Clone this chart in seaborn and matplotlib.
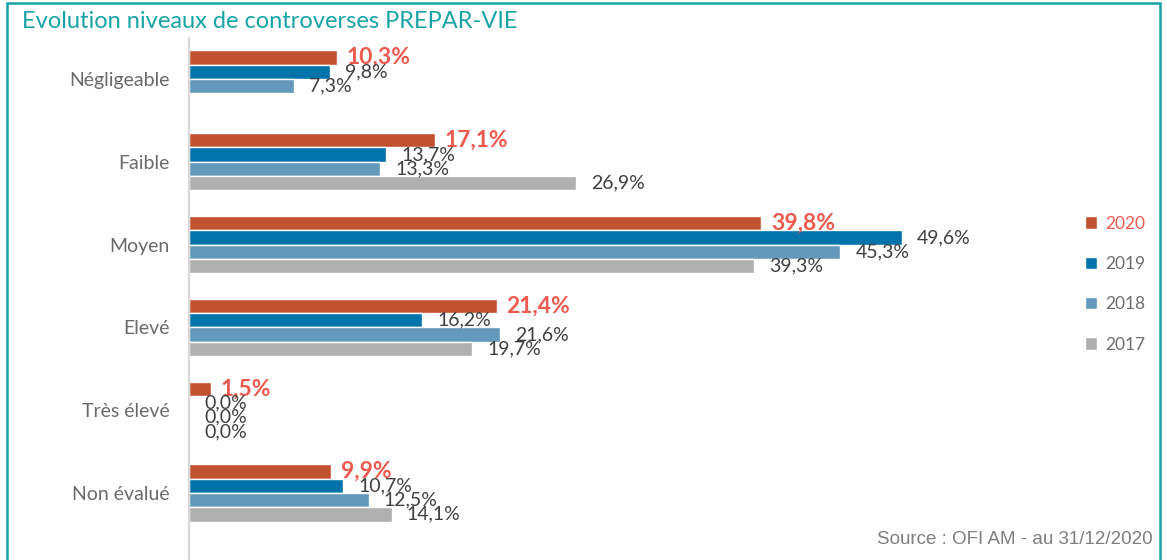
import matplotlib
matplotlib.use("Agg")
import matplotlib.pyplot as plt
import matplotlib.patches as mpatches
import seaborn as sns
import pandas as pd
import numpy as np

categories = ["Négligeable", "Faible", "Moyen", "Elevé", "Très élevé", "Non évalué"]
years = ["2020", "2019", "2018", "2017"]
v2020 = [10.3, 17.1, 39.8, 21.4, 1.5, 9.9]
v2019 = [9.8, 13.7, 49.6, 16.2, 0.0, 10.7]
v2018 = [7.3, 13.3, 45.3, 21.6, 0.0, 12.5]
v2017 = [None, 26.9, 39.3, 19.7, 0.0, 14.1]

colors = ["#C0522F", "#0073AA", "#6399BA", "#B0B0B0"]
red_text = "#EC5A50"
teal = "#18A4A6"

rows = []
for yr, vals in zip(years, [v2020, v2019, v2018, v2017]):
    for c, v in zip(categories, vals):
        if v is not None:
            rows.append({"cat": c, "year": yr, "val": v})
df = pd.DataFrame(rows)

sns.set_theme(style="white")
plt.rcParams["font.family"] = ["Lato", "DejaVu Sans"]

fig = plt.figure(figsize=(11.67, 5.6), dpi=100)
ax = fig.add_axes([189 / 1167, 0.0, (1040 - 189) / 1167, 1 - 38 / 560])

sns.barplot(data=df, y="cat", x="val", hue="year", order=categories,
            hue_order=years, palette=colors, orient="h", width=0.69,
            dodge=True, ax=ax, errorbar=None, saturation=1, legend=True)

ax.set_xlim(0, (1040 - 189) / 14.375)
ax.set_ylim(5.81, -0.495)
ax.set_xlabel("")
ax.set_ylabel("")
ax.set_xticks([])
for s in ["top", "right", "bottom"]:
    ax.spines[s].set_visible(False)
ax.spines["left"].set_color("#D9D9D9")
ax.spines["left"].set_linewidth(1.6)
ax.tick_params(axis="y", length=0, pad=14, labelsize=14, labelcolor="#6A6A6A")

def fmt(v):
    return f"{v:.1f}%".replace(".", ",")

for i, cont in enumerate(ax.containers):
    if i == 0:
        ax.bar_label(cont, fmt=fmt, padding=7, fontsize=16.5, fontweight="bold",
                     color=red_text)
    else:
        ax.bar_label(cont, fmt=fmt, padding=11, fontsize=14, color="#404040")

leg = ax.legend(loc="upper left", bbox_to_anchor=((1069 - 189) / (1040 - 189), (560 - 200) / 522),
                frameon=False, fontsize=12.5, handlelength=0.7, handleheight=0.7,
                handletextpad=0.5, labelspacing=1.4)
for t in leg.get_texts():
    t.set_color("#6E6E6E")
leg.get_texts()[0].set_color(red_text)

fig.text(22 / 1167, 1 - 22 / 560, "Evolution niveaux de controverses PREPAR-VIE",
         color=teal, fontsize=17, va="center", ha="left")
fig.text(1153 / 1167, 1 - 540 / 560, "Source : OFI AM - au 31/12/2020",
         color="#7F7F7F", fontsize=13.5, va="center", ha="right",
         family=["Liberation Sans", "DejaVu Sans"])

border = mpatches.Rectangle((7 / 1167, -0.01), (1160 - 7) / 1167, 1 - 3 / 560 + 0.01,
                            transform=fig.transFigure, fill=False,
                            edgecolor=teal, linewidth=1.8, clip_on=False)
fig.patches.append(border)

fig.savefig("out.png", dpi=100)
